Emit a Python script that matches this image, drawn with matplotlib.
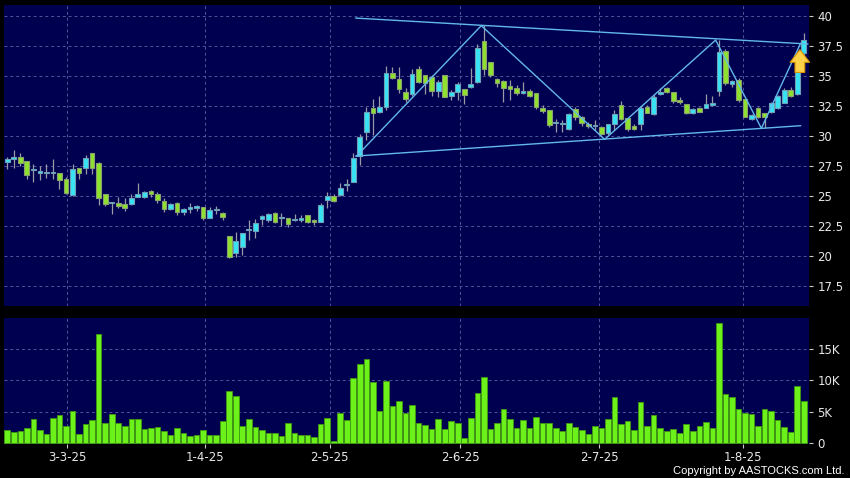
import numpy as np
import matplotlib
matplotlib.use("Agg")
import matplotlib.pyplot as plt

# Дані: ціни OHLC (щоденні свічки) та обсяг торгів
opens = [27.8, 28.06, 28.22, 27.9, 27.2, 26.9, 26.95, 26.95, 26.9, 26.4,
         25.06, 27.3, 27.36, 28.56, 27.78, 25.14, 24.4, 24.4, 24.3, 24.36,
         24.94, 24.94, 25.4, 25.17, 24.56, 23.9, 24.44, 23.64, 23.9, 23.97,
         24.06, 23.2, 23.82, 23.56, 21.69, 20.22, 20.72, 22.15, 22.1, 23.11,
         23.0, 23.61, 23.18, 23.19, 22.98, 23.0, 23.42, 23.0, 22.86, 24.67,
         25.0, 25.11, 25.95, 26.19, 28.33, 30.3, 32.36, 32.03, 32.39, 35.22,
         34.75, 33.64, 33.5, 35.56, 35.06, 34.89, 33.78, 35.06, 33.33, 33.64,
         33.89, 34.05, 34.53, 37.92, 36.14, 34.78, 34.58, 34.17, 34.0, 33.58,
         33.75, 33.56, 32.36, 32.17, 31.06, 31.04, 30.56, 32.22, 31.61, 31.03,
         30.82, 30.78, 30.28, 31.0, 32.58, 31.47, 30.83, 31.0, 32.39, 31.83,
         33.5, 33.97, 33.64, 33.0, 32.64, 31.92, 32.36, 32.3, 32.58, 33.75,
         37.11, 34.3, 34.67, 33.06, 31.39, 32.3, 31.89, 32.03, 32.3, 32.78,
         33.83, 33.5, 36.89]
highs = [28.25, 28.8, 28.6, 27.95, 27.64, 27.5, 27.64, 28.1, 26.95, 26.6,
         27.64, 27.35, 28.45, 28.6, 27.8, 25.2, 24.5, 24.9, 24.86, 25.14,
         26.1, 25.4, 25.5, 25.3, 24.8, 24.4, 24.5, 24.0, 24.4, 24.25,
         24.1, 24.05, 24.2, 23.7, 21.7, 21.97, 21.94, 23.0, 23.05, 23.4,
         23.55, 23.7, 23.55, 23.2, 23.47, 23.4, 23.45, 23.1, 24.4, 25.36,
         25.2, 26.1, 26.4, 28.6, 30.2, 32.44, 33.08, 33.3, 35.83, 35.78,
         35.72, 34.0, 35.56, 35.8, 35.1, 35.08, 34.67, 35.1, 33.83, 34.5,
         33.95, 35.64, 37.64, 39.25, 36.2, 34.86, 34.67, 34.67, 34.25, 34.53,
         33.92, 33.6, 32.58, 32.2, 31.39, 31.33, 31.9, 32.4, 31.67, 31.2,
         31.33, 30.8, 31.0, 32.17, 32.92, 31.5, 31.0, 32.5, 32.58, 33.42,
         33.97, 34.1, 33.7, 33.28, 32.7, 32.3, 32.4, 33.5, 33.33, 38.0,
         37.22, 34.67, 34.8, 33.1, 31.8, 32.44, 31.95, 32.86, 33.42, 33.97,
         34.1, 35.83, 38.6]
lows = [27.22, 27.36, 27.5, 26.45, 26.2, 26.3, 26.5, 26.4, 25.6, 25.14,
        25.03, 26.4, 26.83, 26.8, 24.25, 24.17, 23.47, 24.0, 23.75, 24.28,
        24.9, 24.8, 24.9, 24.4, 23.7, 23.8, 23.4, 23.4, 23.6, 23.75,
        23.0, 23.17, 23.5, 23.0, 19.8, 19.94, 20.08, 21.33, 21.47, 22.58,
        22.86, 22.72, 22.53, 22.39, 22.9, 22.8, 22.72, 22.6, 22.8, 23.97,
        24.5, 25.0, 25.4, 26.14, 27.58, 29.67, 30.08, 31.94, 32.17, 34.72,
        33.6, 32.86, 33.3, 34.4, 33.5, 33.33, 33.22, 33.22, 33.0, 33.0,
        32.67, 33.97, 34.44, 35.08, 34.94, 34.1, 32.86, 33.0, 33.42, 33.5,
        33.22, 32.22, 31.9, 30.72, 30.3, 30.3, 30.5, 31.33, 30.83, 30.7,
        30.5, 30.1, 30.08, 30.5, 31.33, 30.44, 30.5, 30.5, 31.9, 31.75,
        33.42, 33.55, 32.72, 32.67, 31.83, 31.83, 31.97, 32.3, 32.5, 33.33,
        34.25, 34.1, 32.86, 31.55, 31.33, 31.47, 30.64, 31.9, 32.22, 32.72,
        33.28, 33.42, 36.75]
closes = [28.05, 28.25, 27.72, 26.72, 27.22, 27.06, 26.97, 26.97, 26.3, 25.28,
          27.28, 26.9, 28.2, 27.3, 24.8, 24.3, 24.42, 24.2, 24.03, 24.86,
          25.14, 25.33, 25.14, 24.64, 23.9, 24.3, 23.67, 23.9, 24.1, 24.17,
          23.14, 23.8, 23.84, 23.28, 19.94, 21.22, 21.89, 22.19, 22.78, 23.3,
          23.5, 22.86, 23.22, 22.64, 23.02, 23.2, 22.86, 22.8, 24.25, 25.0,
          24.58, 25.67, 25.99, 28.14, 29.89, 31.97, 31.94, 32.39, 35.22, 34.8,
          33.89, 33.06, 35.14, 34.47, 34.39, 33.78, 34.53, 33.28, 33.64, 34.3,
          33.39, 34.33, 37.3, 35.56, 35.08, 34.39, 33.97, 33.89, 33.56, 33.78,
          33.33, 32.39, 32.08, 30.92, 31.1, 31.07, 31.83, 31.56, 31.06, 30.83,
          30.85, 30.17, 31.0, 31.8, 31.42, 30.58, 30.61, 32.3, 31.94, 33.28,
          33.7, 33.64, 32.92, 32.8, 31.94, 32.28, 32.03, 32.67, 32.78, 37.03,
          34.39, 34.58, 33.0, 31.61, 31.75, 31.61, 31.61, 32.78, 33.33, 33.83,
          33.33, 35.78, 38.0]
volume_k = [2.1, 1.8, 1.95, 2.4, 3.8, 2.1, 1.5, 4.05, 4.5, 2.8,
            5.2, 1.5, 3.0, 3.7, 17.4, 3.3, 4.6, 3.3, 2.8, 3.8,
            3.9, 2.3, 2.4, 2.6, 2.0, 1.4, 2.5, 1.7, 1.2, 1.3,
            2.05, 1.4, 1.4, 3.5, 8.3, 7.6, 2.7, 3.9, 2.6, 2.2,
            1.7, 1.7, 1.2, 3.3, 1.7, 1.3, 1.4, 1.05, 3.05, 4.0,
            0.35, 4.9, 3.7, 10.3, 12.6, 13.4, 9.8, 5.1, 9.95, 6.0,
            6.8, 4.8, 6.1, 3.3, 2.9, 2.3, 3.9, 2.3, 3.5, 3.3,
            0.9, 4.0, 8.0, 10.6, 2.3, 3.3, 5.5, 3.8, 2.4, 3.7,
            2.5, 4.2, 3.2, 3.3, 2.5, 1.9, 3.2, 2.6, 2.2, 1.5,
            2.7, 2.4, 3.8, 7.4, 3.1, 3.5, 2.15, 6.5, 2.7, 4.5,
            2.5, 2.0, 2.3, 1.7, 3.0, 1.9, 2.7, 3.4, 2.4, 19.1,
            7.9, 7.3, 5.5, 4.8, 4.6, 2.8, 5.5, 5.1, 3.7, 2.6,
            1.8, 9.1, 6.8]

# Мітки дат на осі X (позиції в номерах торгових днів)
date_labels = ["3-3-25", "1-4-25", "2-5-25", "2-6-25", "2-7-25", "1-8-25"]
date_pos = [9.2, 30.3, 49.4, 69.4, 90.7, 112.7]

# Лінії фігури (трикутник / зигзаг), як на графіку AASTOCKS
zigzag_x = [53.5, 72.6, 91.5, 108.5, 115.5, 121.5]
zigzag_y = [28.33, 39.2, 29.72, 38.0, 30.64, 37.72]
upper_x = [53.4, 122.6]
upper_y = [39.83, 37.67]
lower_x = [53.4, 121.5]
lower_y = [28.33, 30.86]
arrow_x = 121.4
arrow_from, arrow_to = 35.3, 37.2

price_ticks = [17.5, 20, 22.5, 25, 27.5, 30, 32.5, 35, 37.5, 40]
price_tick_labels = ["17.5", "20", "22.5", "25", "27.5", "30", "32.5", "35", "37.5", "40"]
vol_ticks = [0, 5, 10, 15]
vol_tick_labels = ["0", "5K", "10K", "15K"]

o = np.array(opens)
h = np.array(highs)
l = np.array(lows)
c = np.array(closes)
x = np.arange(len(o))
up = c >= o

BG = "#000050"
GRID = "#4f5596"
TXT = "#e8e8e8"
UP_COL = "#38e4f4"
DOWN_COL = "#8ee22e"
WICK = "#9a9aa6"

fig = plt.figure(figsize=(8.5, 4.78), dpi=100, facecolor="black")
ax = fig.add_axes([0.0047, 0.3598, 0.9471, 0.6297], facecolor=BG)
axv = fig.add_axes([0.0047, 0.0711, 0.9471, 0.2636], facecolor=BG, sharex=ax)

# Свічки
ax.vlines(x, l, h, color=WICK, linewidth=0.9, zorder=2)
body_bottom = np.minimum(o, c)
body_h = np.maximum(np.abs(c - o), 0.08)
ax.bar(x[up], body_h[up], bottom=body_bottom[up], width=0.72,
       color=UP_COL, edgecolor="#6f9fb4", linewidth=0.8, zorder=3)
ax.bar(x[~up], body_h[~up], bottom=body_bottom[~up], width=0.72,
       color=DOWN_COL, edgecolor="#8aa070", linewidth=0.8, zorder=3)

# Лінії фігури
line_col = "#63b8ea"
ax.plot(upper_x, upper_y, color=line_col, linewidth=1.0, zorder=4)
ax.plot(lower_x, lower_y, color=line_col, linewidth=1.0, zorder=4)
ax.plot(zigzag_x, zigzag_y, color=line_col, linewidth=1.0, zorder=4)

# Жовта стрілка вгору
ax.annotate("", xy=(arrow_x, arrow_to), xytext=(arrow_x, arrow_from),
            arrowprops=dict(arrowstyle="simple,head_length=0.65,head_width=1.0,tail_width=0.5",
                            fc="#ffd24a", ec="#d99400", lw=0.8,
                            mutation_scale=14, shrinkA=0, shrinkB=0),
            zorder=5)

# Обсяг
axv.bar(x, volume_k, width=0.86, color="#6cf21a", edgecolor="#3f9a10",
        linewidth=0.6, zorder=3)

for a in (ax, axv):
    for s in a.spines.values():
        s.set_visible(False)
    a.grid(True, color=GRID, linestyle=(0, (3, 3)), linewidth=0.7, zorder=0)
    a.yaxis.tick_right()
    a.tick_params(axis="y", colors="#c8c8c8", labelcolor=TXT, length=3,
                  width=0.8, pad=3, labelsize=8.5)

ax.set_xlim(-0.5, 122.8)
ax.set_ylim(15.83, 40.92)
ax.set_yticks(price_ticks)
ax.set_yticklabels(price_tick_labels)
ax.tick_params(axis="x", bottom=False, labelbottom=False)

axv.set_ylim(-0.1, 19.9)
axv.set_yticks(vol_ticks)
axv.set_yticklabels(vol_tick_labels)
axv.set_xticks(date_pos)
axv.set_xticklabels(date_labels)
axv.tick_params(axis="x", colors="#c8c8c8", labelcolor=TXT, length=3,
                width=0.8, pad=2, labelsize=8.5)

fig.text(0.994, 0.004, "Copyright by AASTOCKS.com Ltd.", color="white",
         fontsize=8, family="Liberation Sans", ha="right", va="bottom")

fig.savefig("out.png", dpi=100, facecolor="black")
